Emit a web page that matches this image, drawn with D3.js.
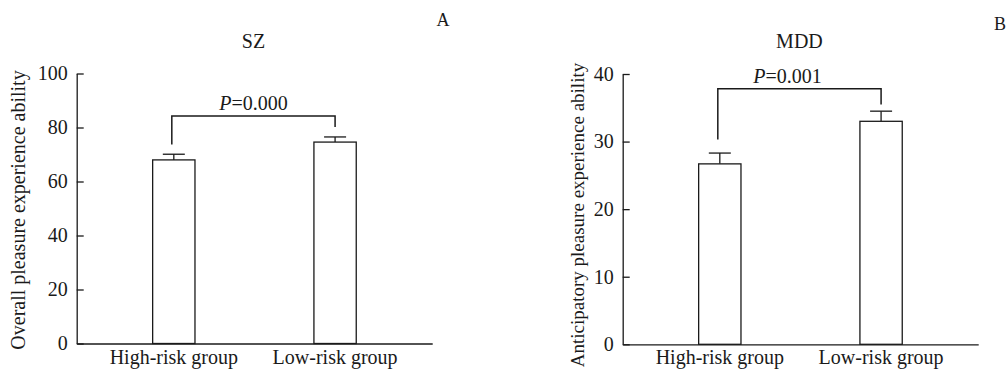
<!DOCTYPE html>
<html>
<head>
<meta charset="utf-8">
<script src="https://cdn.jsdelivr.net/npm/d3@7"></script>
<style>
  html, body { margin: 0; padding: 0; background: #fff; }
  svg { display: block; font-family: "Liberation Serif", "Times New Roman", serif; }
</style>
</head>
<body>
<svg id="chart" width="1007" height="372"></svg>
<script>
'use strict';

const groups = ['High-risk group', 'Low-risk group'];

// panel A: SZ
const szMeans = [68.0, 74.6];
const szErrors = [2.1, 1.9];
const szTicks = [0, 20, 40, 60, 80, 100];

// panel B: MDD
const mddMeans = [26.7, 33.0];
const mddErrors = [1.6, 1.5];
const mddTicks = [0, 10, 20, 30, 40];

// bracket: top value, left leg end, right leg end
const szBracket = [84.3, 73.7, 80.2];
const mddBracket = [37.8, 30.3, 35.5];

const panels = [
  { x: 76.7, top: 73.5, bottom: 343.5, title: 'SZ', letter: 'A', max: 100, ticks: szTicks,
    means: szMeans, errors: szErrors, bracket: szBracket, pText: '=0.000', pShift: 0,
    ylabel: 'Overall pleasure experience ability', ylabelSize: 20, ylabelX: 18, ylabelY: 210,
    letterX: 443, letterY: 26 },
  { x: 622.7, top: 74, bottom: 344.3, title: 'MDD', letter: 'B', max: 40, ticks: mddTicks,
    means: mddMeans, errors: mddErrors, bracket: mddBracket, pText: '=0.001', pShift: -12,
    ylabel: 'Anticipatory pleasure experience ability', ylabelSize: 19, ylabelX: 577, ylabelY: 215,
    letterX: 1000, letterY: 30 }
];

const width = 355.5;
const ink = '#1a1a1a';
const fontSize = 20;

const svg = d3.select('#chart');

panels.forEach(p => {
  const g = svg.append('g').attr('transform', `translate(${p.x},0)`);

  const x = d3.scaleBand()
    .domain(groups)
    .range([0, width])
    .paddingInner(0.7376)
    .paddingOuter(0.471);

  const y = d3.scaleLinear()
    .domain([0, p.max])
    .range([p.bottom, p.top]);

  // y axis, ticks pointing inward
  const yAxis = g.append('g')
    .call(d3.axisLeft(y).tickValues(p.ticks).tickSizeInner(-7).tickSizeOuter(0).tickPadding(9));
  yAxis.select('.domain').attr('stroke', ink).attr('stroke-width', 1.3);
  yAxis.selectAll('.tick line').attr('stroke', ink).attr('stroke-width', 1.3);
  yAxis.selectAll('.tick text')
    .attr('fill', ink)
    .style('font-size', fontSize + 'px')
    .style('font-family', '"Liberation Serif", serif');

  // x axis baseline
  const xAxis = g.append('g')
    .attr('transform', `translate(0,${p.bottom})`)
    .call(d3.axisBottom(x).tickSize(0).tickPadding(6));
  xAxis.select('.domain').attr('stroke', ink).attr('stroke-width', 1.3);
  xAxis.selectAll('.tick text')
    .attr('fill', ink)
    .style('font-size', fontSize + 'px')
    .style('font-family', '"Liberation Serif", serif');

  const cx = d => x(d) + x.bandwidth() / 2;

  // error bars
  groups.forEach((grp, i) => {
    const top = p.means[i] + p.errors[i];
    g.append('line')
      .attr('x1', cx(grp)).attr('x2', cx(grp))
      .attr('y1', y(p.means[i])).attr('y2', y(top))
      .attr('stroke', ink).attr('stroke-width', 1.3);
    g.append('line')
      .attr('x1', cx(grp) - 11).attr('x2', cx(grp) + 11)
      .attr('y1', y(top)).attr('y2', y(top))
      .attr('stroke', ink).attr('stroke-width', 1.3);
  });

  // bars
  g.selectAll('rect.bar')
    .data(groups)
    .join('rect')
    .attr('class', 'bar')
    .attr('x', d => x(d))
    .attr('width', x.bandwidth())
    .attr('y', (d, i) => y(p.means[i]))
    .attr('height', (d, i) => y(0) - y(p.means[i]))
    .attr('fill', '#fff')
    .attr('stroke', ink)
    .attr('stroke-width', 1.3);

  // significance bracket
  const [bTop, bLeft, bRight] = p.bracket;
  const x0 = cx(groups[0]) - 2, x1 = cx(groups[1]);
  g.append('path')
    .attr('d', `M${x0},${y(bLeft)}V${y(bTop)}H${x1}V${y(bRight)}`)
    .attr('fill', 'none')
    .attr('stroke', ink)
    .attr('stroke-width', 1.5);

  const pt = g.append('text')
    .attr('x', (x0 + x1) / 2 + p.pShift)
    .attr('y', y(bTop) - 6)
    .attr('text-anchor', 'middle')
    .attr('fill', ink)
    .style('font-size', fontSize + 'px');
  pt.append('tspan').attr('font-style', 'italic').text('P');
  pt.append('tspan').text(p.pText);

  // panel title
  g.append('text')
    .attr('x', (x0 + x1) / 2)
    .attr('y', 48)
    .attr('text-anchor', 'middle')
    .attr('fill', ink)
    .style('font-size', fontSize + 'px')
    .text(p.title);

  // y label
  svg.append('text')
    .attr('transform', `translate(${p.ylabelX},${p.ylabelY}) rotate(-90)`)
    .attr('text-anchor', 'middle')
    .attr('dy', '0.35em')
    .attr('fill', ink)
    .style('font-size', p.ylabelSize + 'px')
    .text(p.ylabel);

  // panel letter
  svg.append('text')
    .attr('x', p.letterX)
    .attr('y', p.letterY)
    .attr('text-anchor', 'middle')
    .attr('fill', ink)
    .style('font-size', '18px')
    .text(p.letter);
});
</script>
</body>
</html>
